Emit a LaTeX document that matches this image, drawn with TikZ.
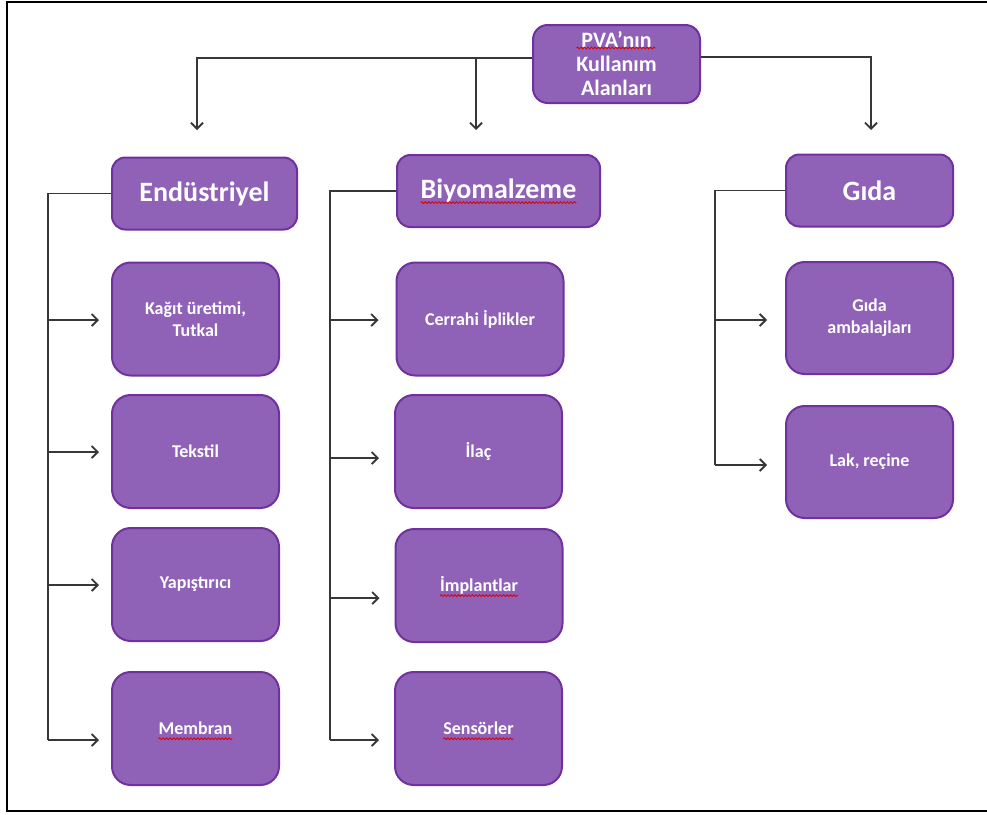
\documentclass[tikz,border=0pt]{standalone}
\usepackage{fontspec}
\setmainfont{Carlito}
\usetikzlibrary{arrows.meta,calc,decorations.pathmorphing}

\definecolor{boxfill}{RGB}{143,98,183}
\definecolor{boxedge}{RGB}{112,48,160}
\definecolor{wire}{RGB}{55,55,55}

\tikzset{
  box/.style={draw=boxedge, fill=boxfill, line width=1.5pt, text=white,
    inner sep=0pt, align=center},
  topbox/.style={box, rounded corners=11pt, minimum width={167*0.75pt},
    minimum height={78*0.75pt}, font=\fontsize{16.5}{18}\selectfont\bfseries},
  catbox/.style={box, rounded corners=10pt, minimum height={72*0.75pt},
    font=\fontsize{21}{24}\selectfont\bfseries},
  leafbox/.style={box, rounded corners=14pt, minimum width={167*0.75pt},
    minimum height={113*0.75pt}, font=\fontsize{13.5}{16.5}\selectfont\bfseries},
  wireline/.style={draw=wire, line width=1.35pt},
  arr/.style={wireline, -{Straight Barb[length=4.5pt,width=9pt]}},
  squig/.style={draw=red!85!black, line width=0.6pt, decorate,
    decoration={snake, amplitude=0.7pt, segment length=2.6pt}},
}
% red wavy underline below a single-line label
\newcommand\wavyunder[1]{%
  \draw[squig] ($(#1.text)+(0,4)$) -- ($(#1.base)!-1!(#1.text)+(0,4)$);}

\begin{document}
\begin{tikzpicture}[x=0.75pt,y=-0.75pt]
\useasboundingbox (0,0) rectangle (987,814);

% frame
\draw[line width=1.6pt] (995,2) -- (7,2) -- (7,811) -- (995,811);

% root
\node[topbox] (pva) at (616.5,64) {PVA’nın\\Kullanım\\Alanları};

% categories
\node[catbox, minimum width={185*0.75pt}] (endu) at (204.5,193.5) {Endüstriyel};
\node[catbox, minimum width={203*0.75pt}] (bio) at (498.5,191) {Biyomalzeme};
\node[catbox, minimum width={167*0.75pt}] (gida) at (869.5,190.5) {Gıda};

% industrial uses
\node[leafbox] (k1) at (195.5,319) {Kağıt üretimi,\\Tutkal};
\node[leafbox] (k2) at (195.5,451.5) {Tekstil};
\node[leafbox] (k3) at (195.5,584.5) {Yapıştırıcı};
\node[leafbox] (k4) at (195.5,728.5) {Membran};

% biomaterial uses
\node[leafbox] (b1) at (480,319) {Cerrahi İplikler};
\node[leafbox] (b2) at (478.5,451.5) {İlaç};
\node[leafbox] (b3) at (479,585.5) {İmplantlar};
\node[leafbox] (b4) at (478.5,728.5) {Sensörler};

% food uses
\node[leafbox, minimum height={112*0.75pt}] (g1) at (869.5,318) {Gıda\\ambalajları};
\node[leafbox, minimum height={112*0.75pt}] (g2) at (869.5,462) {Lak, reçine};

% wavy underlines
\draw[squig] ($(pva.center)+(-40,-16)$) -- ($(pva.center)+(39,-16)$);
\wavyunder{bio}
\wavyunder{k4}
\wavyunder{b3}
\wavyunder{b4}

% root to categories
\coordinate (dL) at (197,130);
\coordinate (dM) at (476,130);
\coordinate (dR) at (871,130);
\draw[arr] ($(pva.west)+(0,-6)$) -| (dL);
\draw[arr] ($(pva.west)+(0,-6)$) -| (dM);
\draw[arr] ($(pva.east)+(0,-7)$) -| (dR);

% industrial branch
\coordinate (tL) at (48,740);
\draw[wireline] (endu.west) -| (tL);
\draw[arr] ($(tL |- k1)+(0,1)$) -- ($(k1.west)+(-12,1)$);
\draw[arr] ($(tL |- k2)+(0,0.5)$) -- ($(k2.west)+(-12,0.5)$);
\draw[arr] ($(tL |- k3)+(0,0.5)$) -- ($(k3.west)+(-12,0.5)$);
\draw[arr] (tL) -- ($(tL -| k4.west)+(-12,0)$);

% biomaterial branch
\coordinate (tM) at (330,740);
\draw[wireline] (bio.west) -| (tM);
\draw[arr] ($(tM |- b1)+(0,1)$) -- ($(b1.west)+(-17,1)$);
\draw[arr] ($(tM |- b2)+(0,6.5)$) -- ($(b2.west)+(-15,6.5)$);
\draw[arr] ($(tM |- b3)+(0,12.5)$) -- ($(b3.west)+(-15,12.5)$);
\draw[arr] (tM) -- ($(tM -| b4.west)+(-15,0)$);

% food branch
\coordinate (tR) at (715,465);
\draw[wireline] (gida.west) -| (tR);
\draw[arr] ($(tR |- g1)+(0,2)$) -- ($(g1.west)+(-18,2)$);
\draw[arr] (tR) -- ($(tR -| g2.west)+(-18,0)$);
\end{tikzpicture}
\end{document}
